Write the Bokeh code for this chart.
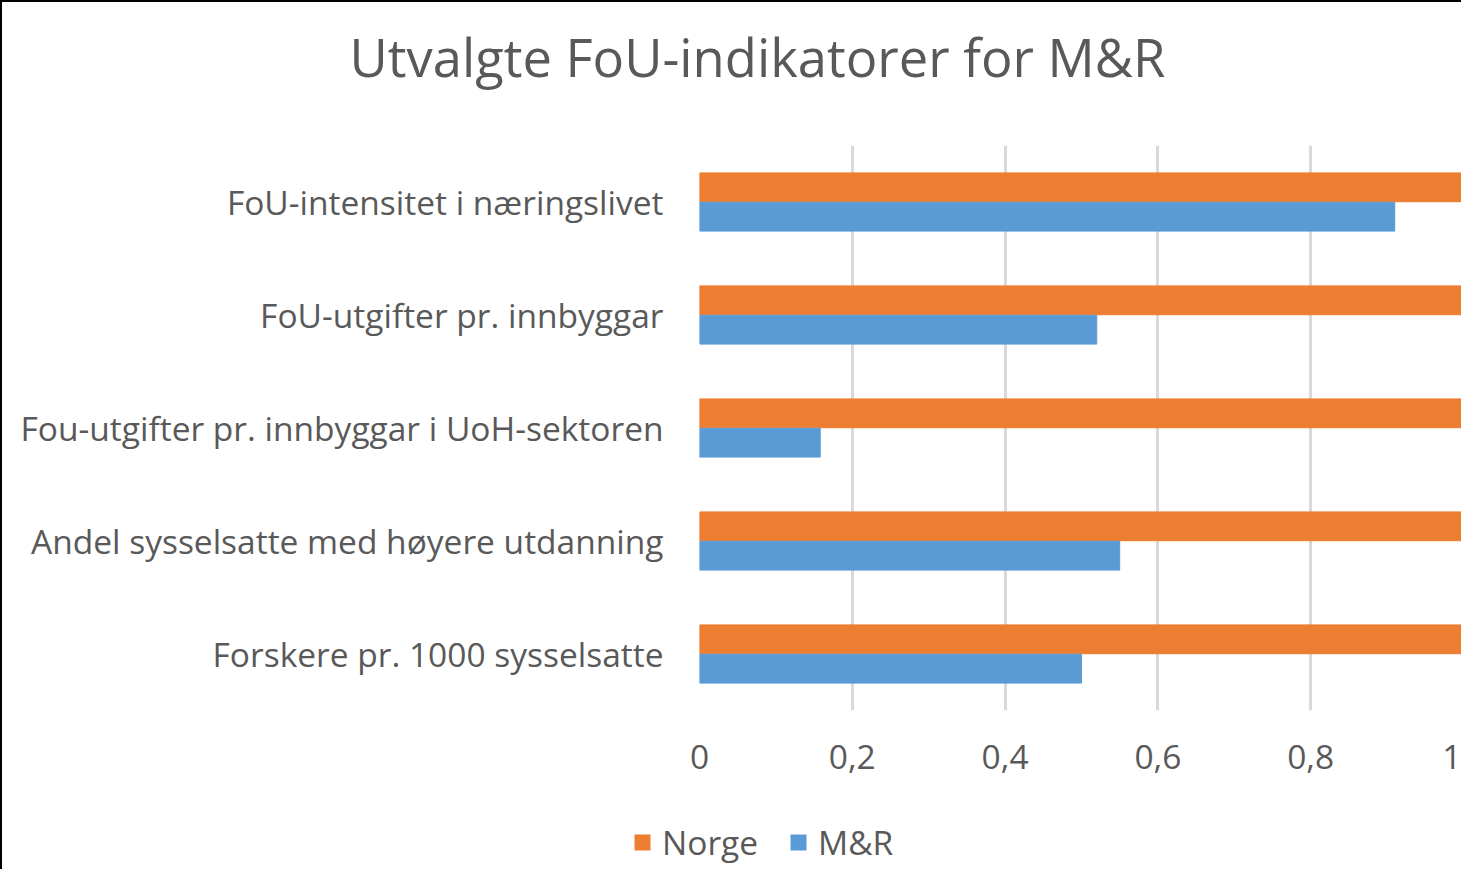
from bokeh.plotting import figure
from bokeh.models import (FactorRange, Range1d, FixedTicker, Legend, LegendItem, Label,
                          ColumnDataSource)
from bokeh.transform import dodge
from bokeh.embed import file_html
from bokeh.resources import INLINE

categories = [
    "FoU-intensitet i næringslivet",
    "FoU-utgifter pr. innbyggar",
    "Fou-utgifter pr. innbyggar i UoH-sektoren",
    "Andel sysselsatte med høyere utdanning",
    "Forskere pr. 1000 sysselsatte",
]
series_names = ["Norge", "M&R"]
norge = [1.0, 1.0, 1.0, 1.0, 1.0]
mr = [0.91, 0.52, 0.158, 0.55, 0.50]
tick_values = [0, 0.2, 0.4, 0.6, 0.8, 1.0]
tick_labels = ["0", "0,2", "0,4", "0,6", "0,8", "1"]
title_text = "Utvalgte FoU-indikatorer for M&R"

FONT = "Open Sans"
TXT = "#595959"
ORANGE = "#ED7D31"
BLUE = "#5B9BD5"
W = 1461
LEFT = {"border-left": "2px solid #000"}


def blank(height):
    f = figure(width=W, height=height, x_range=Range1d(0, 1), y_range=Range1d(0, 1),
               x_axis_type=None, y_axis_type=None, output_backend="svg",
               toolbar_location=None, min_border=0)
    f.outline_line_color = None
    f.grid.grid_line_color = None
    return f


# --- title strip ---
t = blank(110)
t.styles = {"border-left": "2px solid #000", "border-top": "2px solid #000"}
t.add_layout(Label(x=755, y=56, x_units="screen", y_units="screen", text=title_text,
                   text_align="center", text_baseline="middle", text_font=FONT,
                   text_font_size="52.5px", text_color=TXT))

# --- main chart ---
src = ColumnDataSource(dict(cat=categories, norge=norge, mr=mr))
p = figure(width=W, height=688,
           y_range=FactorRange(factors=categories[::-1]), x_range=Range1d(0, 1.0),
           output_backend="svg", toolbar_location=None,
           min_border_left=697, min_border_right=0, min_border_top=35, min_border_bottom=88)
p.styles = LEFT
p.outline_line_color = None

p.hbar(y=dodge("cat", 0.13, range=p.y_range), right="norge", left=0, height=0.255,
       source=src, fill_color=ORANGE, line_color=ORANGE)
p.hbar(y=dodge("cat", -0.13, range=p.y_range), right="mr", left=0, height=0.255,
       source=src, fill_color=BLUE, line_color=BLUE)

p.xaxis.ticker = FixedTicker(ticks=tick_values)
p.xaxis.major_label_overrides = {v: l for v, l in zip(tick_values, tick_labels)}
for ax in (p.xaxis[0], p.yaxis[0]):
    ax.axis_line_color = None
    ax.major_tick_line_color = None
    ax.minor_tick_line_color = None
    ax.major_label_text_font = FONT
    ax.major_label_text_font_size = "33.5px"
    ax.major_label_text_color = TXT
p.xaxis.major_label_standoff = 28
p.yaxis.major_label_standoff = 30
p.xgrid.grid_line_color = "#D9D9D9"
p.xgrid.grid_line_width = 3
p.ygrid.grid_line_color = None

# --- legend strip (zero-size key renderers, only their colours are used) ---
q = blank(71)
q.styles = LEFT
keys = ColumnDataSource(dict(y=[0.0], right=[0.0]))
k1 = q.hbar(y="y", right="right", left=0, height=0, source=keys,
            fill_color=ORANGE, line_color=None)
k2 = q.hbar(y="y", right="right", left=0, height=0, source=keys,
            fill_color=BLUE, line_color=None)
legend = Legend(items=[LegendItem(label=series_names[0], renderers=[k1]),
                       LegendItem(label=series_names[1], renderers=[k2])],
                orientation="horizontal", location=(630, 4),
                padding=0, margin=0, spacing=30, label_standoff=10,
                glyph_width=20, glyph_height=20,
                label_text_font=FONT, label_text_font_size="33.5px", label_text_color=TXT,
                border_line_color=None, background_fill_alpha=0)
q.add_layout(legend, "center")

open("out.html", "w").write(file_html([t, p, q], INLINE))
